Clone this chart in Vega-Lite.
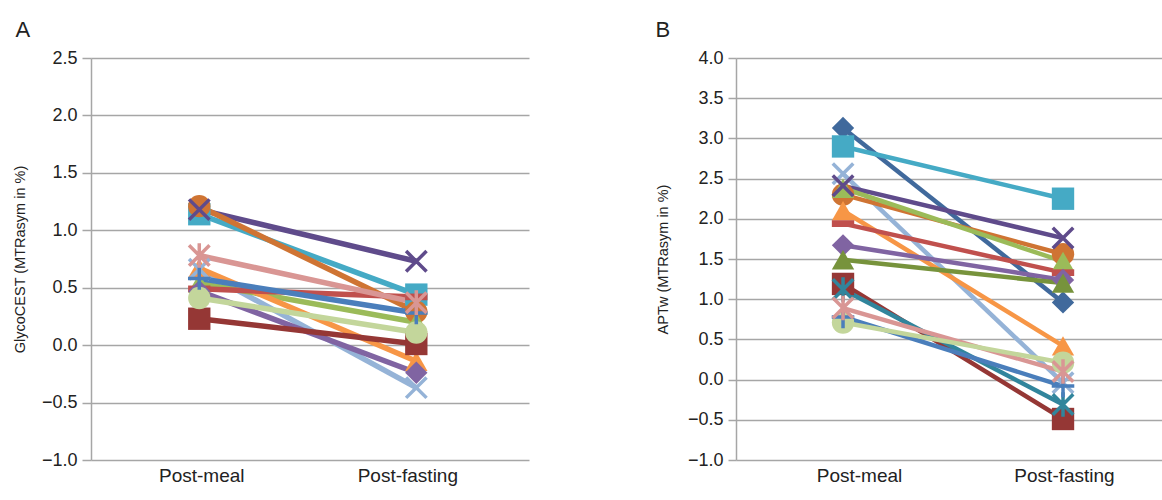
{
  "$schema": "https://vega.github.io/schema/vega-lite/v6.json",
  "padding": {"left": 12, "top": 19, "right": 0, "bottom": 2},
  "background": "white",
  "config": {
    "view": {"stroke": null},
    "font": "Liberation Sans",
    "axis": {
      "labelFont": "Liberation Sans",
      "titleFont": "Liberation Sans",
      "labelColor": "#222222",
      "titleColor": "#222222",
      "gridColor": "#A6A6A6",
      "gridWidth": 1.5,
      "domainColor": "#A6A6A6",
      "domainWidth": 1.5,
      "tickColor": "#A6A6A6",
      "tickWidth": 1.5
    },
    "title": {"font": "Liberation Sans", "fontSize": 22, "fontWeight": "normal", "color": "#222222", "anchor": "start", "frame": "bounds", "offset": 7}
  },
  "datasets": {
    "glyco": [
      {"subject": "S02", "condition": "Post-meal", "value": 1.14},
      {"subject": "S02", "condition": "Post-fasting", "value": 0.44},
      {"subject": "S03", "condition": "Post-meal", "value": 0.66},
      {"subject": "S03", "condition": "Post-fasting", "value": -0.37},
      {"subject": "S04", "condition": "Post-meal", "value": 1.18},
      {"subject": "S04", "condition": "Post-fasting", "value": 0.73},
      {"subject": "S05", "condition": "Post-meal", "value": 1.21},
      {"subject": "S05", "condition": "Post-fasting", "value": 0.29},
      {"subject": "S06", "condition": "Post-meal", "value": 0.54},
      {"subject": "S06", "condition": "Post-fasting", "value": 0.2},
      {"subject": "S07", "condition": "Post-meal", "value": 0.67},
      {"subject": "S07", "condition": "Post-fasting", "value": -0.14},
      {"subject": "S08", "condition": "Post-meal", "value": 0.49},
      {"subject": "S08", "condition": "Post-fasting", "value": 0.42},
      {"subject": "S09", "condition": "Post-meal", "value": 0.47},
      {"subject": "S09", "condition": "Post-fasting", "value": -0.24},
      {"subject": "S11", "condition": "Post-meal", "value": 0.23},
      {"subject": "S11", "condition": "Post-fasting", "value": 0.01},
      {"subject": "S13", "condition": "Post-meal", "value": 0.58},
      {"subject": "S13", "condition": "Post-fasting", "value": 0.28},
      {"subject": "S14", "condition": "Post-meal", "value": 0.78},
      {"subject": "S14", "condition": "Post-fasting", "value": 0.37},
      {"subject": "S15", "condition": "Post-meal", "value": 0.41},
      {"subject": "S15", "condition": "Post-fasting", "value": 0.11}
    ],
    "aptw": [
      {"subject": "S01", "condition": "Post-meal", "value": 3.13},
      {"subject": "S01", "condition": "Post-fasting", "value": 0.96},
      {"subject": "S02", "condition": "Post-meal", "value": 2.9},
      {"subject": "S02", "condition": "Post-fasting", "value": 2.25},
      {"subject": "S03", "condition": "Post-meal", "value": 2.56},
      {"subject": "S03", "condition": "Post-fasting", "value": -0.04},
      {"subject": "S04", "condition": "Post-meal", "value": 2.41},
      {"subject": "S04", "condition": "Post-fasting", "value": 1.76},
      {"subject": "S05", "condition": "Post-meal", "value": 2.3},
      {"subject": "S05", "condition": "Post-fasting", "value": 1.56},
      {"subject": "S06", "condition": "Post-meal", "value": 2.38},
      {"subject": "S06", "condition": "Post-fasting", "value": 1.47},
      {"subject": "S07", "condition": "Post-meal", "value": 2.1},
      {"subject": "S07", "condition": "Post-fasting", "value": 0.42},
      {"subject": "S08", "condition": "Post-meal", "value": 1.94},
      {"subject": "S08", "condition": "Post-fasting", "value": 1.33},
      {"subject": "S09", "condition": "Post-meal", "value": 1.67},
      {"subject": "S09", "condition": "Post-fasting", "value": 1.24},
      {"subject": "S10", "condition": "Post-meal", "value": 1.49},
      {"subject": "S10", "condition": "Post-fasting", "value": 1.2},
      {"subject": "S11", "condition": "Post-meal", "value": 1.19},
      {"subject": "S11", "condition": "Post-fasting", "value": -0.49},
      {"subject": "S12", "condition": "Post-meal", "value": 1.12},
      {"subject": "S12", "condition": "Post-fasting", "value": -0.31},
      {"subject": "S13", "condition": "Post-meal", "value": 0.78},
      {"subject": "S13", "condition": "Post-fasting", "value": -0.08},
      {"subject": "S14", "condition": "Post-meal", "value": 0.89},
      {"subject": "S14", "condition": "Post-fasting", "value": 0.1},
      {"subject": "S15", "condition": "Post-meal", "value": 0.71},
      {"subject": "S15", "condition": "Post-fasting", "value": 0.21}
    ]
  },
  "spacing": 126,
  "hconcat": [
    {
      "title": {"text": "A", "dx": 3},
      "width": 438,
      "height": 402,
      "data": {"name": "glyco"},
      "encoding": {
        "x": {
          "field": "condition", "type": "nominal", "sort": ["Post-meal", "Post-fasting"],
          "scale": {"type": "point", "domain": ["Post-meal", "Post-fasting"], "padding": 0.509, "align": 0.49},
          "axis": {"title": null, "labelAngle": 0, "ticks": false, "domain": false, "grid": false, "labelFontSize": 19, "labelPadding": 6,
                   "labelOffset": {"condition": {"test": "datum.value === 'Post-fasting'", "value": -9}, "value": 2}}
        },
        "y": {
          "field": "value", "type": "quantitative",
          "scale": {"domain": [-1, 2.5], "nice": false, "zero": false},
          "axis": {"title": "GlycoCEST (MTRasym in %)", "values": [-1, -0.5, 0, 0.5, 1, 1.5, 2, 2.5], "format": ".1f",
                   "labelFontSize": 18, "titleFontSize": 14.5, "titleFontWeight": "normal", "tickSize": 9, "labelPadding": 5, "titlePadding": 14, "grid": true}
        },
        "color": {
          "field": "subject", "type": "nominal", "legend": null,
          "scale": {"domain": ["S01","S02","S03","S04","S05","S06","S07","S08","S09","S10","S11","S12","S13","S14","S15"],
                    "range": ["#40699C","#45AAC5","#95B3D7","#5F4B8B","#CF7433","#9BBB59","#F79646","#C0504D","#8064A2","#77933C","#953735","#31859C","#4A7EBB","#D99694","#C3D69B"]}
        }
      },
      "layer": [
        {"mark": {"type": "line", "strokeWidth": 5.5}, "encoding": {"detail": {"field": "subject"}}},
        {
          "transform": [{"filter": {"field": "subject", "oneOf": ["S01","S02","S05","S06","S07","S08","S09","S10","S11","S15"]}}],
          "mark": {"type": "point", "filled": true, "opacity": 1, "size": 500},
          "encoding": {
            "shape": {"field": "subject", "type": "nominal", "legend": null,
              "scale": {"domain": ["S01","S02","S03","S04","S05","S06","S07","S08","S09","S10","S11","S12","S13","S14","S15"],
                        "range": ["diamond","square","M-1,-1L1,1M1,-1L-1,1","M-1,-1L1,1M1,-1L-1,1","circle","triangle-up","triangle-up","M-1,-0.3L1,-0.3L1,0.3L-1,0.3Z","diamond","triangle-up","square","M-1,-1L1,1M1,-1L-1,1M0,-1.2L0,1.2","M-1.1,0L1.1,0M0,-1.1L0,1.1","M-1,-1L1,1M1,-1L-1,1M0,-1.2L0,1.2","circle"]}}
          }
        },
        {
          "transform": [{"filter": {"field": "subject", "oneOf": ["S03","S04","S12","S13","S14"]}}],
          "mark": {"type": "point", "filled": false, "opacity": 1, "size": 420, "strokeWidth": 3.5},
          "encoding": {
            "shape": {"field": "subject", "type": "nominal", "legend": null,
              "scale": {"domain": ["S01","S02","S03","S04","S05","S06","S07","S08","S09","S10","S11","S12","S13","S14","S15"],
                        "range": ["diamond","square","M-1,-1L1,1M1,-1L-1,1","M-1,-1L1,1M1,-1L-1,1","circle","triangle-up","triangle-up","M-1,-0.3L1,-0.3L1,0.3L-1,0.3Z","diamond","triangle-up","square","M-1,-1L1,1M1,-1L-1,1M0,-1.2L0,1.2","M-1.1,0L1.1,0M0,-1.1L0,1.1","M-1,-1L1,1M1,-1L-1,1M0,-1.2L0,1.2","circle"]}}
          }
        }
      ]
    },
    {
      "title": {"text": "B", "dx": 0},
      "width": 427,
      "height": 402,
      "data": {"name": "aptw"},
      "encoding": {
        "x": {
          "field": "condition", "type": "nominal", "sort": ["Post-meal", "Post-fasting"],
          "scale": {"type": "point", "domain": ["Post-meal", "Post-fasting"], "padding": 0.4705, "align": 0.517},
          "axis": {"title": null, "labelAngle": 0, "ticks": false, "domain": false, "grid": false, "labelFontSize": 19, "labelPadding": 6,
                   "labelOffset": {"condition": {"test": "datum.value === 'Post-meal'", "value": 16}, "value": 1}}
        },
        "y": {
          "field": "value", "type": "quantitative",
          "scale": {"domain": [-1, 4], "nice": false, "zero": false},
          "axis": {"title": "APTw (MTRasym in %)", "values": [-1, -0.5, 0, 0.5, 1, 1.5, 2, 2.5, 3, 3.5, 4], "format": ".1f",
                   "labelFontSize": 18, "titleFontSize": 14.5, "titleFontWeight": "normal", "tickSize": 8, "labelPadding": 5, "titlePadding": 17, "grid": true}
        },
        "color": {
          "field": "subject", "type": "nominal", "legend": null,
          "scale": {"domain": ["S01","S02","S03","S04","S05","S06","S07","S08","S09","S10","S11","S12","S13","S14","S15"],
                    "range": ["#40699C","#45AAC5","#95B3D7","#5F4B8B","#CF7433","#9BBB59","#F79646","#C0504D","#8064A2","#77933C","#953735","#31859C","#4A7EBB","#D99694","#C3D69B"]}
        }
      },
      "layer": [
        {"mark": {"type": "line", "strokeWidth": 4.5}, "encoding": {"detail": {"field": "subject"}}},
        {
          "transform": [{"filter": {"field": "subject", "oneOf": ["S01","S02","S05","S06","S07","S08","S09","S10","S11","S15"]}}],
          "mark": {"type": "point", "filled": true, "opacity": 1, "size": 500},
          "encoding": {
            "shape": {"field": "subject", "type": "nominal", "legend": null,
              "scale": {"domain": ["S01","S02","S03","S04","S05","S06","S07","S08","S09","S10","S11","S12","S13","S14","S15"],
                        "range": ["diamond","square","M-1,-1L1,1M1,-1L-1,1","M-1,-1L1,1M1,-1L-1,1","circle","triangle-up","triangle-up","M-1,-0.3L1,-0.3L1,0.3L-1,0.3Z","diamond","triangle-up","square","M-1,-1L1,1M1,-1L-1,1M0,-1.2L0,1.2","M-1.1,0L1.1,0M0,-1.1L0,1.1","M-1,-1L1,1M1,-1L-1,1M0,-1.2L0,1.2","circle"]}}
          }
        },
        {
          "transform": [{"filter": {"field": "subject", "oneOf": ["S03","S04","S12","S13","S14"]}}],
          "mark": {"type": "point", "filled": false, "opacity": 1, "size": 420, "strokeWidth": 3.5},
          "encoding": {
            "shape": {"field": "subject", "type": "nominal", "legend": null,
              "scale": {"domain": ["S01","S02","S03","S04","S05","S06","S07","S08","S09","S10","S11","S12","S13","S14","S15"],
                        "range": ["diamond","square","M-1,-1L1,1M1,-1L-1,1","M-1,-1L1,1M1,-1L-1,1","circle","triangle-up","triangle-up","M-1,-0.3L1,-0.3L1,0.3L-1,0.3Z","diamond","triangle-up","square","M-1,-1L1,1M1,-1L-1,1M0,-1.2L0,1.2","M-1.1,0L1.1,0M0,-1.1L0,1.1","M-1,-1L1,1M1,-1L-1,1M0,-1.2L0,1.2","circle"]}}
          }
        }
      ]
    }
  ]
}
